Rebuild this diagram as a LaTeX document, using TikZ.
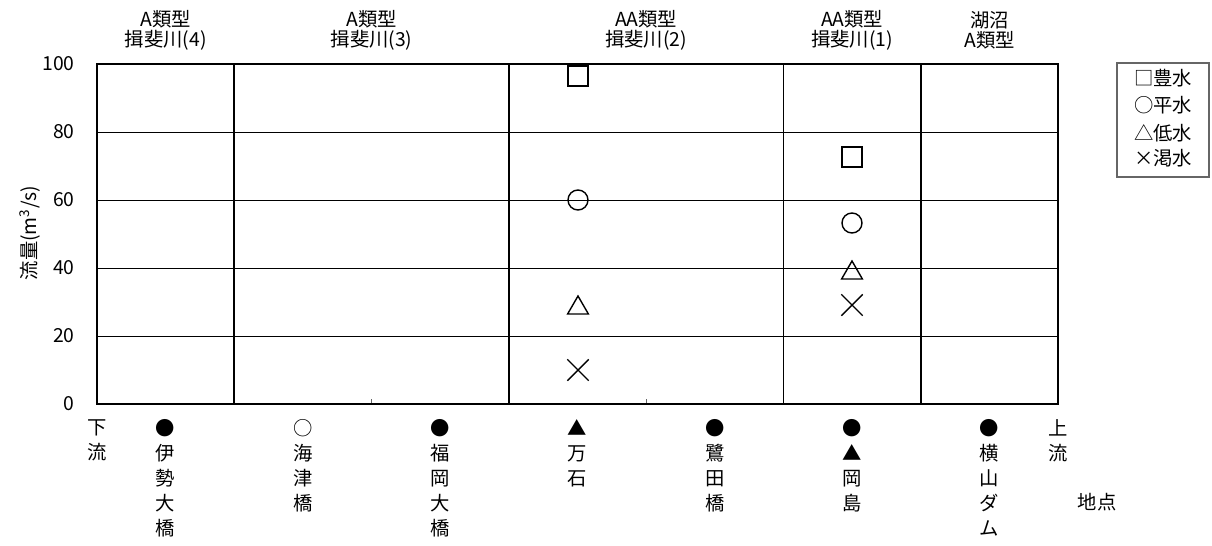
\documentclass[tikz,border=0pt]{standalone}
\usepackage{fontspec}
\setmainfont{Noto Sans CJK JP}
\usepackage{tikz}
\usetikzlibrary{positioning,shapes.geometric,shapes.misc}

\begin{document}
\begin{tikzpicture}[
    font=\fontsize{11}{14.2}\selectfont,
    ptline/.style={draw, inner sep=0pt, line width=0.8pt},
    sqpt/.style={ptline, rectangle, minimum size=0.4cm},
    cpt/.style={ptline, circle, minimum size=0.4cm},
    tript/.style={ptline, regular polygon, regular polygon sides=3, minimum size=0.48cm},
    xpt/.style={ptline, cross out, minimum size=0.4cm},
    ylab/.style={anchor=east, inner sep=0pt},
    site/.style={anchor=north, align=center, inner sep=0pt},
    zone/.style={align=center, inner sep=0pt, font=\fontsize{11}{11.3}\selectfont}
]
    \useasboundingbox (-1.94,-2.82) rectangle (22.3,8.08);% fix the margins
    \draw[line width=0.5pt] (0,1.36) -- (19.22,1.36);% gridline 20
    \draw[line width=0.5pt] (0,2.72) -- (19.22,2.72);% gridline 40
    \draw[line width=0.5pt] (0,4.08) -- (19.22,4.08);% gridline 60
    \draw[line width=0.5pt] (0,5.44) -- (19.22,5.44);% gridline 80
    \draw[line width=0.4pt,black!60] (5.492,0) -- (5.492,0.1);% minor tick
    \draw[line width=0.4pt,black!60] (10.984,0) -- (10.984,0.1);% minor tick
    \draw[line width=1.1pt] (2.746,0) -- (2.746,6.8);% split (4)|(3)
    \draw[line width=1.1pt] (8.238,0) -- (8.238,6.8);% split (3)|(2)
    \draw[line width=1.1pt] (13.73,0) -- (13.73,6.8);% split (2)|(1)
    \draw[line width=1.1pt] (16.476,0) -- (16.476,6.8);% split (1)|lake
    \draw[line width=1.1pt] (0,0) rectangle (19.22,6.8);% draw the frame
    % y axis
    \node[ylab] (y0) at (-0.44,0) {0};
    \node[ylab] (y20) at (-0.44,1.36) {20};
    \node[ylab] (y40) at (-0.44,2.72) {40};
    \node[ylab] (y60) at (-0.44,4.08) {60};
    \node[ylab] (y80) at (-0.44,5.44) {80};
    \node[ylab] (y100) at (-0.44,6.8) {100};
    \node[rotate=90] (ytitle) at (-1.34,3.42) {流量(m\textsuperscript{3}/s)};
    % zones on top
    \node[zone] (z4) at (1.373,7.48) {A類型\\揖斐川(4)};
    \node[zone] (z3) at (5.492,7.48) {A類型\\揖斐川(3)};
    \node[zone] (z2) at (10.984,7.48) {AA類型\\揖斐川(2)};
    \node[zone] (z1) at (15.103,7.48) {AA類型\\揖斐川(1)};
    \node[zone] (zl) at (17.849,7.48) {湖沼\\A類型};
    % flows at Mangoku
    \node[sqpt] (mkHigh) at (9.62,6.56) {};
    \node[cpt] (mkMid) at (9.62,4.08) {};
    \node[tript] (mkLow) at (9.62,1.92) {};
    \node[xpt] (mkDry) at (9.62,0.68) {};
    % flows at Okajima
    \node[sqpt] (okHigh) at (15.1,4.94) {};
    \node[cpt] (okMid) at (15.1,3.62) {};
    \node[tript] (okLow) at (15.1,2.62) {};
    \node[xpt] (okDry) at (15.1,1.98) {};
    % sites below the axis
    \node[site] (down) at (0,-0.31) {下\\流};
    \node[site] (ise) at (1.373,-0.31) {●\\伊\\勢\\大\\橋};
    \node[site] (kaizu) at (4.119,-0.31) {○\\海\\津\\橋};
    \node[site] (fukuoka) at (6.865,-0.31) {●\\福\\岡\\大\\橋};
    \node[site] (mangoku) at (9.611,-0.31) {▲\\万\\石};
    \node[site] (sagita) at (12.357,-0.31) {●\\鷺\\田\\橋};
    \node[site] (okajima) at (15.103,-0.31) {●\\▲\\岡\\島};
    \node[site] (yokoyama) at (17.849,-0.31) {●\\横\\山\\ダ\\ム};
    \node[site] (up) at (19.22,-0.31) {上\\流};
    \node (sites) at (20.0,-1.96) {地点};
    % legend
    \draw[line width=0.6pt,black!60] (20.4,4.54) rectangle (22.24,6.82);
    \node (lgHigh) at (21.32,6.52) {□豊水};
    \node (lgMid) at (21.32,5.98) {○平水};
    \node (lgLow) at (21.32,5.42) {△低水};
    \node (lgDry) at (21.32,4.92) {×渇水};
\end{tikzpicture}
\end{document}
